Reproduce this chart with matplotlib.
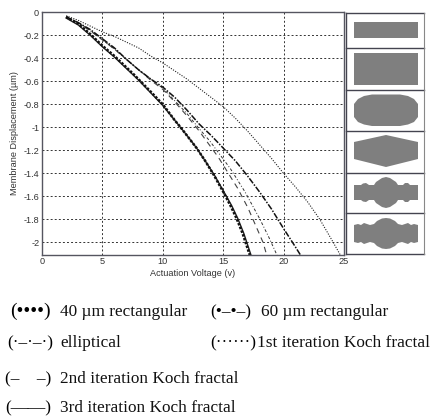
import matplotlib
matplotlib.use("Agg")
import matplotlib.pyplot as plt

W, H = 431, 416

# curves: voltage (V), displacement (um)
rect40_v = [2, 3, 4, 5, 6, 7, 7.6, 9, 10, 11, 11.4, 12.8, 13.5, 14.2, 15, 15.6, 16.1, 16.6, 17.2]
rect40_d = [-0.04, -0.1, -0.19, -0.29, -0.38, -0.48, -0.54, -0.69, -0.8, -0.94, -0.99, -1.18, -1.29, -1.41, -1.56, -1.68, -1.79, -1.92, -2.11]

koch3_v = [2, 3, 4, 5, 6, 7, 8, 9, 10, 11, 12, 12.8, 13.5, 14.3, 15, 15.7, 16.2, 16.7, 17.3]
koch3_d = [-0.05, -0.11, -0.2, -0.3, -0.39, -0.49, -0.59, -0.7, -0.81, -0.94, -1.07, -1.18, -1.29, -1.42, -1.55, -1.68, -1.79, -1.92, -2.11]

rect60_v = [2, 3, 4, 5, 6, 7, 8, 9, 10, 11, 12, 13, 14, 15, 16, 17, 18, 19, 20, 20.8, 21.4]
rect60_d = [-0.04, -0.09, -0.15, -0.23, -0.31, -0.41, -0.5, -0.58, -0.65, -0.74, -0.85, -0.97, -1.07, -1.18, -1.29, -1.42, -1.56, -1.71, -1.88, -2.01, -2.11]

ellip_v = [2, 3, 4, 5, 6, 7, 8, 9, 10, 11, 12, 13, 13.9, 15.6, 16.8, 18.05, 18.8, 19.45]
ellip_d = [-0.04, -0.09, -0.16, -0.24, -0.32, -0.41, -0.5, -0.58, -0.66, -0.77, -0.88, -1.01, -1.12, -1.36, -1.56, -1.8, -1.96, -2.11]

koch1_v = [2, 3, 4, 5, 6, 7, 8, 9, 10, 11, 12, 13, 14, 15, 16, 17, 18, 19, 20, 21, 22, 23, 24, 24.7]
koch1_d = [-0.03, -0.07, -0.12, -0.17, -0.21, -0.26, -0.31, -0.38, -0.44, -0.51, -0.58, -0.66, -0.74, -0.82, -0.92, -1.03, -1.15, -1.27, -1.4, -1.52, -1.65, -1.8, -1.98, -2.11]

koch2_v = [2, 3, 4, 5, 6, 7, 8, 9, 10, 11, 12, 13, 14.6, 16.2, 17.05, 18.3, 18.6]
koch2_d = [-0.04, -0.09, -0.16, -0.24, -0.32, -0.41, -0.5, -0.59, -0.67, -0.78, -0.9, -1.03, -1.26, -1.53, -1.7, -2.0, -2.11]

x_ticks = [0, 5, 10, 15, 20, 25]
y_ticks = [0, -0.2, -0.4, -0.6, -0.8, -1, -1.2, -1.4, -1.6, -1.8, -2]
y_labels = ['0', '-0.2', '-0.4', '-0.6', '-0.8', '-1', '-1.2', '-1.4', '-1.6', '-1.8', '-2']

# membrane outlines for the right hand panel, in picture pixels
box_edges = [13, 48, 90, 131, 173, 213, 254]
rect_a = [(354, 22), (418, 22), (418, 38), (354, 38)]
rect_b = [(354, 53), (418, 53), (418, 85), (354, 85)]
ellipse = [(354, 104), (358, 99), (364, 96), (372, 94.5), (400, 94.5), (408, 96), (414, 99), (418, 104),
           (418, 117), (414, 122), (408, 124.5), (400, 126), (372, 126), (364, 124.5), (358, 122), (354, 117)]
hexagon = [(354, 142), (386, 135), (418, 142), (418, 159), (386, 167), (354, 159)]
koch_a_top = [(354, 185), (361, 185), (363, 183.5), (366, 183), (369, 185), (374, 185), (376, 182), (379, 180),
              (382, 178), (386, 177), (390, 178), (393, 180), (396, 182), (398, 185), (403, 185), (405, 183),
              (408, 183), (410, 185), (418, 185)]
koch_b_top = [(354, 225), (358, 224), (361, 225), (364, 223), (367, 224), (370, 225), (374, 224), (377, 221),
              (379, 220), (382, 218.5), (386, 218), (390, 218.5), (393, 220), (395, 221), (398, 224), (402, 225),
              (405, 224), (408, 223), (411, 225), (414, 224), (418, 225)]

serif = ['Liberation Serif', 'DejaVu Serif']
plt.rcParams['font.family'] = ['Liberation Sans', 'DejaVu Sans']
plt.rcParams['font.size'] = 6.6
spine_col = '#555560'
text_col = '#333333'

fig = plt.figure(figsize=(W / 100, H / 100), dpi=100)
ax = fig.add_axes([42 / W, 1 - 254.5 / H, 302 / W, 242.2 / H])

ax.plot(koch1_v, koch1_d, color='#222222', lw=0.8, ls=(0, (1, 1.3)))
ax.plot(ellip_v, ellip_d, color='#333333', lw=0.7, ls=(0, (3, 2, 1, 2)))
ax.plot(koch2_v, koch2_d, color='#444444', lw=0.8, ls=(0, (5, 4)))
ax.plot(rect60_v, rect60_d, color='#111111', lw=1.1, ls=(0, (4, 1, 1, 1)))
ax.plot(koch3_v, koch3_d, color='#222222', lw=1.0)
ax.plot(rect40_v, rect40_d, color='#111111', lw=1.8, ls=(0, (1, 0.6)))

ax.set_xlim(0, 25)
ax.set_ylim(-2.105, 0)
ax.set_xticks(x_ticks)
ax.set_yticks(y_ticks)
ax.set_yticklabels(y_labels)
ax.tick_params(length=0, pad=2, labelcolor=text_col)
ax.grid(True, color='#333333', lw=0.7, ls=(0, (2, 2.2)))
ax.set_axisbelow(True)
for s in ax.spines.values():
    s.set_color(spine_col)
    s.set_linewidth(1.0)
ax.set_xlabel('Actuation Voltage (v)', color=text_col, labelpad=2)
ax.set_ylabel('Membrane Displacement (\u00b5m)', color=text_col, labelpad=3)

# overlay in pixel coords for the shape panel
ov = fig.add_axes([0, 0, 1, 1])
ov.set_xlim(0, W)
ov.set_ylim(H, 0)
ov.axis('off')
ov.patch.set_alpha(0)

for y_e in box_edges:
    ov.plot([346.5, 424.5], [y_e, y_e], color='#444450', lw=1.0)
ov.plot([346.5, 346.5], [box_edges[0], box_edges[-1]], color='#444450', lw=1.0)
ov.plot([424.5, 424.5], [box_edges[0], box_edges[-1]], color='#888888', lw=0.8)


def mirrored(top, yc):
    return top + [(x, 2 * yc - y) for x, y in reversed(top)]


outlines = [rect_a, rect_b, ellipse, hexagon, mirrored(koch_a_top, 192.5), mirrored(koch_b_top, 233.5)]
for pts in outlines:
    ov.fill([p[0] for p in pts], [p[1] for p in pts], color='#7f7f7f', lw=0)

# legend is plain text under the chart
leg_fs = 12.4
ink = '#111111'
ov.text(10, 316, '(\u2022\u2022\u2022\u2022)', family=serif, fontsize=14, va='baseline', color='black')
ov.text(60, 316, '40 \u00b5m rectangular', family=serif, fontsize=leg_fs, va='baseline', color=ink)
ov.text(210, 316, '(\u2022\u2013\u2022\u2013)', family=serif, fontsize=leg_fs, va='baseline', color='black')
ov.text(261, 316, '60 \u00b5m rectangular', family=serif, fontsize=leg_fs, va='baseline', color=ink)
ov.text(7, 347, '(\u00b7\u2013\u00b7\u2013\u00b7)', family=serif, fontsize=leg_fs, va='baseline', color='black')
ov.text(60, 347, 'elliptical', family=serif, fontsize=leg_fs, va='baseline', color=ink)
ov.text(210, 347, '(\u00b7\u00b7\u00b7\u00b7\u00b7\u00b7)', family=serif, fontsize=leg_fs, va='baseline', color='black')
ov.text(257, 347, '1st iteration Koch fractal', family=serif, fontsize=leg_fs, va='baseline', color=ink)
ov.text(5, 383, '(\u2013    \u2013)', family=serif, fontsize=leg_fs, va='baseline', color='black')
ov.text(60, 383, '2nd iteration Koch fractal', family=serif, fontsize=leg_fs, va='baseline', color=ink)
ov.text(5, 412, '(\u2014\u2014)', family=serif, fontsize=leg_fs, va='baseline', color='black')
ov.text(60, 412, '3rd iteration Koch fractal', family=serif, fontsize=leg_fs, va='baseline', color=ink)

fig.savefig('out.png', dpi=100)
